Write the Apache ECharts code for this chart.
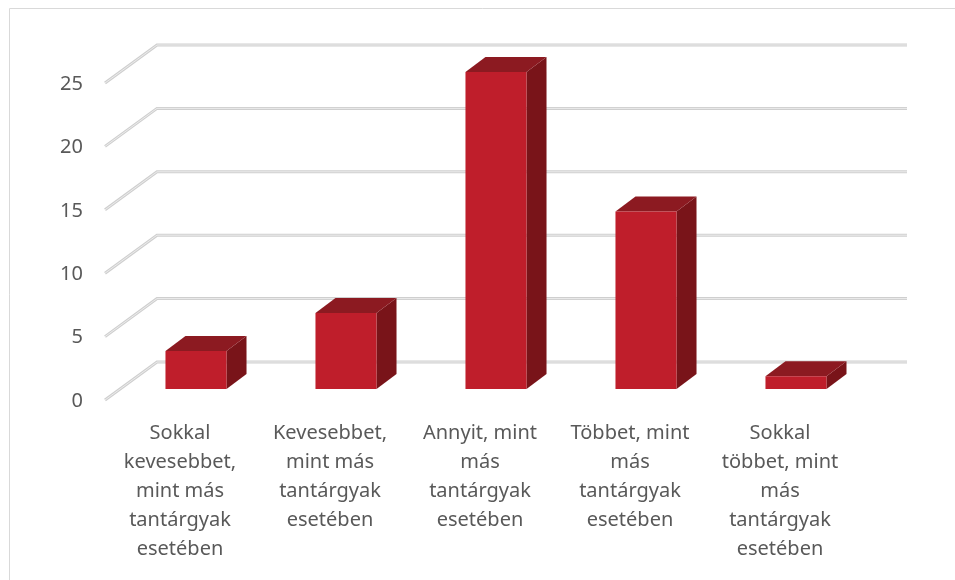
<!DOCTYPE html>
<html>
<head>
<meta charset="utf-8">
<script src="https://cdn.jsdelivr.net/npm/echarts@6/dist/echarts.min.js"></script>
<style>
  html, body { margin: 0; padding: 0; background: #fff; }
  #chart { width: 955px; height: 580px; }
</style>
</head>
<body>
<div id="chart"></div>
<script>
var categories = [
  'Sokkal\nkevesebbet,\nmint más\ntantárgyak\nesetében',
  'Kevesebbet,\nmint más\ntantárgyak\nesetében',
  'Annyit, mint\nmás\ntantárgyak\nesetében',
  'Többet, mint\nmás\ntantárgyak\nesetében',
  'Sokkal\ntöbbet, mint\nmás\ntantárgyak\nesetében'
];
var values = [3, 6, 25, 14, 1];
var yTicks = [0, 5, 10, 15, 20, 25];

var ink = '#595959';
var front = '#BF1E2B';
var topFace = '#8C1A21';
var sideFace = '#791419';

// 3D offsets relative to the bar-front plane
var depthDx = 20, depthDy = -15;
var wallFrontDx = -16, wallFrontDy = 11;
var wallBackDx = 36, wallBackDy = -27;

var chart = echarts.init(document.getElementById('chart'), null, { renderer: 'canvas' });

chart.setOption({
  animation: false,
  textStyle: { fontFamily: 'Noto Sans' },
  graphic: [{
    type: 'rect',
    shape: { x: 9.5, y: 8.5, width: 1000, height: 700 },
    style: { fill: 'none', stroke: '#d9d9d9', lineWidth: 1 },
    silent: true
  }],
  grid: { left: 121, right: 84, top: 72, bottom: 191 },
  xAxis: {
    type: 'category',
    data: categories,
    axisLine: { show: false },
    axisTick: { show: false },
    splitLine: { show: false },
    axisLabel: {
      interval: 0,
      color: ink,
      fontSize: 20,
      lineHeight: 29,
      margin: 30,
      align: 'center',
      padding: [0, 32, 0, 0]
    }
  },
  yAxis: {
    type: 'value',
    min: 0,
    max: 25,
    interval: 5,
    axisLine: { show: false },
    axisTick: { show: false },
    splitLine: { show: false },
    axisLabel: {
      color: ink,
      fontSize: 20,
      margin: 38,
      verticalAlign: 'top',
      lineHeight: 24
    }
  },
  series: [
    {
      type: 'custom',
      silent: true,
      data: yTicks.map(function (v) { return [0, v]; }),
      renderItem: function (params, api) {
        var cs = params.coordSys;
        var y = api.coord([0, api.value(1)])[1];
        var pts = [
          [cs.x + wallFrontDx, y + wallFrontDy],
          [cs.x + wallBackDx, y + wallBackDy],
          [cs.x + cs.width + wallBackDx, y + wallBackDy]
        ];
        return {
          type: 'group',
          children: [
            { type: 'polyline', shape: { points: pts }, style: { stroke: '#cfcfcf', lineWidth: 3, fill: null } },
            { type: 'polyline', shape: { points: pts }, style: { stroke: '#ececec', lineWidth: 1, fill: null } }
          ]
        };
      },
      z: 1
    },
    {
      type: 'custom',
      data: values.map(function (v, i) { return [i, v]; }),
      renderItem: function (params, api) {
        var i = api.value(0);
        var base = api.coord([i, 0]);
        var top = api.coord([i, api.value(1)]);
        var w = api.size([1, 0])[0] * 0.407;
        var x0 = base[0] - w / 2, x1 = base[0] + w / 2;
        var yb = base[1], yt = top[1];
        return {
          type: 'group',
          children: [
            {
              type: 'polygon',
              shape: { points: [[x1, yt], [x1 + depthDx, yt + depthDy], [x1 + depthDx, yb + depthDy], [x1, yb]] },
              style: { fill: sideFace }
            },
            {
              type: 'polygon',
              shape: { points: [[x0, yt], [x0 + depthDx, yt + depthDy], [x1 + depthDx, yt + depthDy], [x1, yt]] },
              style: { fill: topFace }
            },
            {
              type: 'rect',
              shape: { x: x0, y: yt, width: w, height: yb - yt },
              style: { fill: front }
            }
          ]
        };
      },
      z: 2
    }
  ]
});
window.addEventListener('resize', function () { chart.resize(); });
</script>
</body>
</html>
